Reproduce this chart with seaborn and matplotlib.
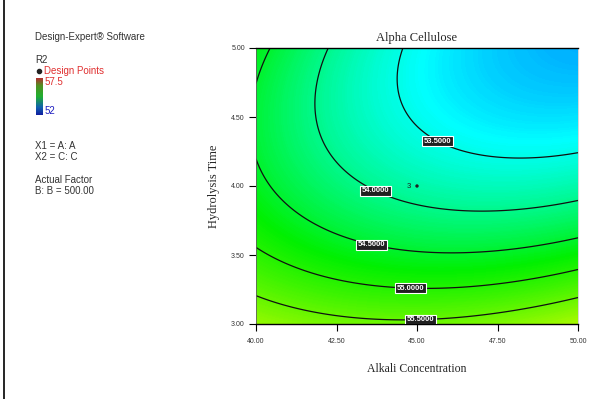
import numpy as np
import matplotlib
matplotlib.use("Agg")
import matplotlib.pyplot as plt
import seaborn as sns
from matplotlib.colors import LinearSegmentedColormap
from matplotlib.lines import Line2D

sns.set_style("white")
plt.rcParams["font.family"] = ["Liberation Sans", "DejaVu Sans"]

# Quadratic response-surface model for R2 (Alpha Cellulose) in coded units
# terms: intercept, A, C, A^2, C^2, A*C  (B held at 500.00)
model_terms = ["Intercept", "A", "C", "A^2", "C^2", "AC"]
model_coefs = [53.8426, -0.3820, -1.0750, 0.3715, 0.6559, -0.4587]

# factor ranges (actual units)
alkali_range = [40.0, 50.0]
time_range = [3.0, 5.0]
x_ticks = [40.0, 42.5, 45.0, 47.5, 50.0]
y_ticks = [3.0, 3.5, 4.0, 4.5, 5.0]

# contour levels and where their labels sit
contour_levels = [53.5, 54.0, 54.5, 55.0, 55.5]
label_positions = [(45.7, 4.35), (43.76, 3.99), (43.6, 3.59), (44.8, 3.25), (45.1, 3.06)]

# design point (center) and its replicate count
center_point = (45.0, 4.0)
center_count = "3"

# colour scale of the response
r2_low, r2_high = 52.0, 57.5

xs = np.linspace(alkali_range[0], alkali_range[1], 300)
ys = np.linspace(time_range[0], time_range[1], 300)
XX, YY = np.meshgrid(xs, ys)
A = (XX - 45.0) / 5.0
C = (YY - 4.0) / 1.0
b0, bA, bC, bAA, bCC, bAC = model_coefs
Z = b0 + bA * A + bC * C + bAA * A**2 + bCC * C**2 + bAC * A * C

fig = plt.figure(figsize=(5.93, 3.99), dpi=100)
ax = fig.add_axes([256 / 593, 1 - 324 / 399, 322 / 593, 276 / 399])

cmap = LinearSegmentedColormap.from_list(
    "de", [(0.0, "#0000ff"), (0.25, "#00ffff"), (0.5, "#00f000"), (0.85, "#ffff00"), (1.0, "#ff0000")]
)
ax.contourf(XX, YY, Z, levels=300, cmap=cmap, vmin=r2_low, vmax=r2_high)
cs = ax.contour(XX, YY, Z, levels=contour_levels, colors="#101010", linewidths=0.9)
labels = ax.clabel(cs, manual=label_positions, fmt="%.4f", fontsize=5.5, inline=False)
for t in labels:
    t.set_rotation(0)
    t.set_color("white")
    t.set_fontweight("bold")
    t.set_zorder(5)
    t.set_bbox(dict(boxstyle="square,pad=0.2", facecolor="#202020", edgecolor="white", linewidth=0.8))

# center design point with its count
sns.scatterplot(x=[center_point[0]], y=[center_point[1]], ax=ax, color="#202020", s=6, edgecolor="none", legend=False)
ax.text(center_point[0] - 0.2, center_point[1], center_count, fontsize=5.5, ha="right", va="center", color="#202020")

ax.set_xlim(alkali_range)
ax.set_ylim(time_range)
ax.set_xticks(x_ticks)
ax.set_yticks(y_ticks)
ax.set_xticklabels([f"{v:.2f}" for v in x_ticks], fontsize=5)
ax.set_yticklabels([f"{v:.2f}" for v in y_ticks], fontsize=5)
ax.tick_params(direction="out", length=5, width=0.8, color="black", pad=3, labelcolor="#333333")
ax.tick_params(axis="x", bottom=True, pad=5)
ax.tick_params(axis="y", left=True)
for side in ["top", "bottom"]:
    ax.spines[side].set_color("black")
    ax.spines[side].set_linewidth(1.0)
ax.spines["left"].set_color("#606060")
ax.spines["left"].set_linewidth(0.6)
ax.spines["right"].set_color("#d0d0d0")
ax.spines["right"].set_linewidth(0.6)

serif = ["Liberation Serif", "DejaVu Serif"]
ax.set_title("Alpha Cellulose", family=serif, fontsize=9, pad=5)
ax.set_xlabel("Alkali Concentration", family=serif, fontsize=8.5, labelpad=13)
ax.set_ylabel("Hydrolysis Time", family=serif, fontsize=9, labelpad=8)

# left-hand information panel
def ftxt(px, py, s, color="#333333"):
    fig.text(px / 593, 1 - py / 399, s, va="center", ha="left", fontsize=7, color=color)

ftxt(35, 37, "Design-Expert\u00ae Software")
ftxt(35, 60, "R2")
fig.add_artist(Line2D([39 / 593], [1 - 71 / 399], marker="o", markersize=3, color="#222222", linestyle="none"))
ftxt(44, 71, "Design Points", color="#e03030")
cb_ax = fig.add_axes([36 / 593, 1 - 115 / 399, 7 / 593, 37 / 399])
grad = np.linspace(1, 0, 60).reshape(-1, 1)
cb_cmap = LinearSegmentedColormap.from_list(
    "cb", [(0.0, "#1020a0"), (0.2, "#1060b0"), (0.5, "#20b030"), (0.8, "#509020"), (1.0, "#b03030")]
)
cb_ax.imshow(grad, aspect="auto", cmap=cb_cmap)
cb_ax.set_axis_off()
ftxt(45, 82, f"{r2_high:.1f}", color="#e03030")
ftxt(45, 111, f"{r2_low:.0f}", color="#2020c0")
ftxt(35, 146, "X1 = A: A")
ftxt(35, 157, "X2 = C: C")
ftxt(35, 180, "Actual Factor")
ftxt(35, 191, "B: B = 500.00")

# left page border
fig.add_artist(Line2D([4 / 593, 4 / 593], [0.0, 1.0], color="black", linewidth=1.2))

fig.savefig("out.png")
